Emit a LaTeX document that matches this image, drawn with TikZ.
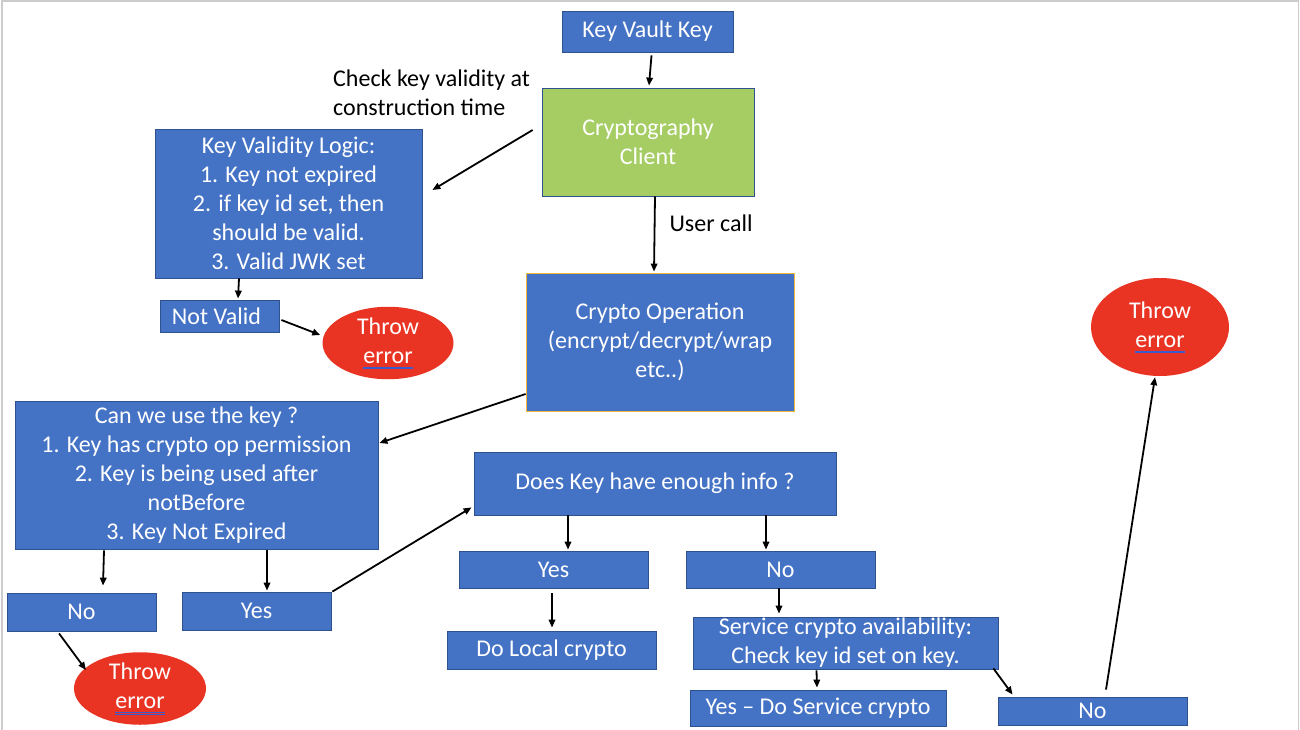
\documentclass[tikz,border=0pt]{standalone}
\usepackage{fontspec}
\setmainfont{Carlito}
\usetikzlibrary{arrows.meta,calc,shapes.geometric}
\definecolor{kblue}{HTML}{4472C4}
\definecolor{kedge}{HTML}{2F528F}
\definecolor{kgreen}{HTML}{A5CD63}
\definecolor{kred}{HTML}{E93423}
\definecolor{kgold}{HTML}{F2B83C}
\definecolor{spellblue}{HTML}{3A5BD0}
\newcommand\spellu[1]{\leavevmode\setbox0=\hbox{#1}\rlap{\color{spellblue}\raisebox{-4pt}{\rule{\wd0}{0.4pt}}}\rlap{\color{spellblue}\raisebox{-5.6pt}{\rule{\wd0}{0.4pt}}}\box0}
\begin{document}
\begin{tikzpicture}[x=1pt,y=-1pt,
  every node/.style={font=\fontsize{24}{29}\selectfont},
  bbox/.style={draw=kedge,line width=0.8pt,fill=kblue,text=white,align=center,inner sep=0pt,rectangle},
  ellnode/.style={ellipse,fill=kred,text=white,align=center,inner sep=0pt},
  plain/.style={text=black,inner sep=0pt},
  arr/.style={-{Triangle[length=8pt,width=6.5pt]},line width=1.8pt,black}]
\useasboundingbox (0,0) rectangle (1300,730);
\draw[gray!40,line width=1.5pt] (2,730) -- (2,1) -- (1298.5,1) -- (1298.5,730);

% nodes
\node[bbox,minimum width=171,minimum height=41] (kvk) at (647.5,31.5) {Key Vault Key};
\node[bbox,fill=kgreen,minimum width=212,minimum height=108] (cc) at (648,142) {Cryptography\\Client};
\node[bbox,draw=kgold,minimum width=268,minimum height=138] (cop) at (660,342) {Crypto Operation\\(encrypt/decrypt/wrap\\etc..)};
\node[bbox,minimum width=267,minimum height=149] (kvl) at (288.5,203.5) {Key Validity Logic:\\1. Key not expired\\2. if key id set, then\\should be valid.\\3. Valid JWK set};
\node[bbox,minimum width=119,minimum height=32] (nv) at (219.5,316) {Not Valid\hspace{6pt}};
\node[ellnode,minimum width=131,minimum height=54] (te1) at (388,343) {Throw\\\spellu{error}};
\node[plain,anchor=west,align=left] (chk) at (333,93) {Check key validity at\\construction time};
\node[plain] (uc) at (711,223) {User call};
\node[bbox,minimum width=363,minimum height=148] (can) at (196.5,475) {Can we use the key ?\\1. Key has crypto op permission\\2. Key is being used after\\notBefore\\3. Key Not Expired};
\node[bbox,minimum width=149,minimum height=38] (no1) at (81.5,612) {No};
\node[bbox,minimum width=149,minimum height=38] (yes1) at (256.5,611) {Yes};
\node[ellnode,minimum width=132,minimum height=63] (te2) at (140,688.5) {Throw\\\spellu{error}};
\node[bbox,minimum width=362,minimum height=63] (dk) at (655,483.5) {Does Key have enough info ?};
\node[bbox,minimum width=189,minimum height=37] (yes2) at (553.5,569.5) {Yes};
\node[bbox,minimum width=189,minimum height=37] (no2) at (780.5,569.5) {No};
\node[bbox,minimum width=209,minimum height=38] (dl) at (551.5,650) {Do Local crypto};
\node[bbox,minimum width=305,minimum height=52] (svc) at (845.5,643) {Service crypto availability:\\Check key id set on key.};
\node[bbox,minimum width=256,minimum height=36] (yds) at (818,708) {Yes -- Do Service crypto};
\node[bbox,minimum width=189,minimum height=28] (no3) at (1092.5,711) {No};
\node[ellnode,minimum width=138,minimum height=98] (te3) at (1160,327) {Throw\\\spellu{error}};

% connectors
\draw[arr] ($(kvk.south)+(4,3)$) -- ($(cc.north)+(1,-2)$);
\draw[arr] ($(cc.south)+(7,0)$) -- ($(cop.north)+(-6,-1)$);
\draw[arr] ($(cc.west)+(-9,-12)$) -- ($(kvl.east)+(10,-13.5)$);
\draw[arr] ($(kvl.south)+(-49.5,0)$) -- ($(nv.north)+(18.5,-1)$);
\draw[arr] ($(nv.east)+(2,4)$) -- ($(te1.west)+(-2,-8)$);
\draw[arr] ($(cop.west)+(0,52)$) -- ($(can.east)+(1,-32)$);
\draw[arr] ($(can.south)+(-92.5,1)$) -- ($(no1.north)+(21.5,-7)$);
\draw[arr] ($(can.south)+(70.5,1)$) -- ($(yes1.north)+(10.5,-1)$);
\draw[arr] ($(no1.south)+(-22.5,2)$) -- ($(te2.center)+(-54,-18.5)$);
\draw[arr] ($(yes1.north east)+(1,0)$) -- ($(dk.south west)+(-2,-8)$);
\draw[arr] ($(dk.south)+(-87,0)$) -- ($(yes2.north)+(14.5,-1)$);
\draw[arr] ($(dk.south)+(111,0)$) -- ($(no2.north)+(-14.5,-1)$);
\draw[arr] ($(yes2.south)+(-1.5,5)$) -- ($(dl.north)+(0.5,-3)$);
\draw[arr] ($(no2.south)+(-1.5,0)$) -- ($(svc.north)+(-66.5,-3)$);
\draw[arr] ($(svc.south)+(-29,1)$) -- ($(yds.north)+(-1,-2)$);
\draw[arr] ($(svc.south east)+(-5,-1)$) -- ($(no3.north west)+(15,-2)$);
\draw[arr] ($(no3.north)+(13.5,-7)$) -- ($(te3.south)+(-5,1)$);
\end{tikzpicture}
\end{document}
